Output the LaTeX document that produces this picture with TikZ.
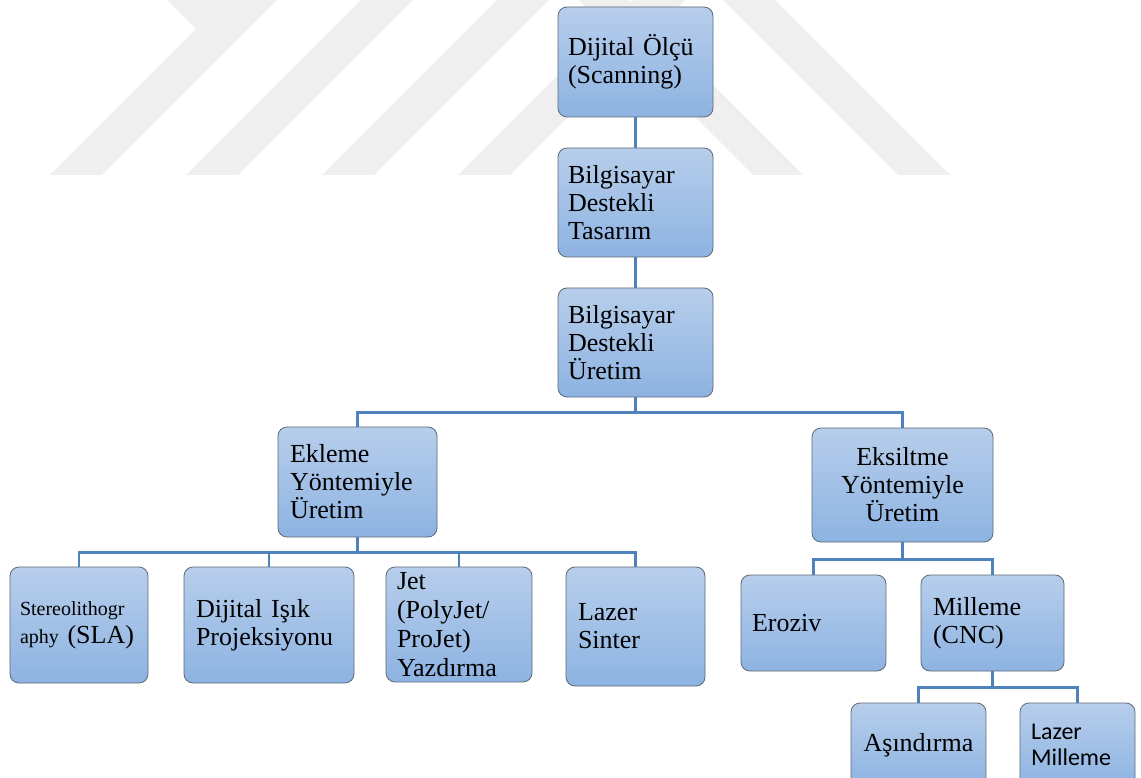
\documentclass[tikz,border=0pt]{standalone}
\usepackage{fontspec}
\setmainfont{Liberation Serif}
\newfontfamily\calib{Carlito}
\definecolor{boxtop}{HTML}{B7CEEB}
\definecolor{boxbot}{HTML}{8DB3E2}
\definecolor{boxline}{HTML}{5E6A77}
\definecolor{conn}{HTML}{4F81BD}
\definecolor{wm}{HTML}{EFEFEF}
\tikzset{
  box/.style={draw=boxline, line width=0.8pt, rounded corners=9pt,
    top color=boxtop, bottom color=boxbot, inner ysep=0pt,
    font=\fontsize{26}{28}\selectfont},
  lbox/.style={box, align=left},
  cbox/.style={box, align=center},
  link/.style={draw=conn, line width=2.2pt},
  wmark/.style={fill=wm, draw=none}
}
\begin{document}
\begin{tikzpicture}[x=1pt,y=-1pt]
\useasboundingbox (0,0) rectangle (1141,778);
\clip (0,0) rectangle (1141,778);
\fill[white] (0,0) rectangle (1141,778);
% watermark
\fill[wmark] (50,175) -- (102,175) -- (277,0) -- (167,0) -- (196,29) -- cycle;
\fill[wmark] (186,175) -- (238,175) -- (413,0) -- (361,0) -- cycle;
\fill[wmark] (322,175) -- (374,175) -- (549,0) -- (497,0) -- cycle;
\fill[wmark] (458,175) -- (510,175) -- (685,0) -- (633,0) -- cycle;
\fill[wmark] (753,175) -- (803,175) -- (628,0) -- (578,0) -- cycle;
\fill[wmark] (898,175) -- (950,175) -- (775,0) -- (723,0) -- cycle;
% nodes
\node[lbox, minimum width=155pt, minimum height=110pt, inner xsep=10pt, text width=135pt] (n1) at (635.5,62) {Dijital Ölçü\\(Scanning)};
\node[lbox, minimum width=155pt, minimum height=109pt, inner xsep=10pt, text width=135pt] (n2) at (635.5,202.5) {Bilgisayar\\Destekli\\Tasarım};
\node[lbox, minimum width=155pt, minimum height=109pt, inner xsep=10pt, text width=135pt] (n3) at (635.5,342.5) {Bilgisayar\\Destekli\\Üretim};
\node[lbox, minimum width=159pt, minimum height=110pt, inner xsep=12pt, text width=135pt] (ek) at (357.5,482) {Ekleme\\Yöntemiyle\\Üretim};
\node[cbox, minimum width=181pt, minimum height=114pt, inner xsep=10pt, text width=161pt] (es) at (902.5,485) {Eksiltme\\Yöntemiyle\\Üretim};
\node[lbox, minimum width=138pt, minimum height=116pt, inner xsep=10pt, text width=118pt] (st) at (79,625) {{\fontsize{20}{28}\selectfont Stereolithogr}\\{\fontsize{20}{28}\selectfont aphy }(SLA)};
\node[lbox, minimum width=170pt, minimum height=116pt, inner xsep=12pt, text width=146pt] (dj) at (269,625) {Dijital Işık\\Projeksiyonu};
\node[lbox, minimum width=146pt, minimum height=115pt, inner xsep=11pt, text width=124pt, font=\fontsize{26}{29}\selectfont] (jet) at (459,624.5) {Jet\\(PolyJet/\\ProJet)\\Yazdırma};
\node[lbox, minimum width=139pt, minimum height=119pt, inner xsep=12pt, text width=115pt] (lz) at (635.5,626.5) {Lazer\\Sinter};
\node[lbox, minimum width=145pt, minimum height=96pt, inner xsep=11pt, text width=123pt] (er) at (813.5,623) {Eroziv};
\node[lbox, minimum width=143pt, minimum height=96pt, inner xsep=12pt, text width=119pt] (mi) at (992.5,623) {Milleme\\(CNC)};
\node[cbox, minimum width=135pt, minimum height=84pt, inner xsep=8pt, text width=119pt] (as) at (918.5,745) {Aşındırma};
\node[lbox, minimum width=115pt, minimum height=84pt, inner xsep=11pt, text width=93pt, font=\calib\fontsize{24}{26}\selectfont] (lm) at (1077.5,745) {Lazer\\Milleme};
% connectors
\draw[link] (n1.south) -- (n2.north);
\draw[link] (n2.south) -- (n3.north);
\draw[link] (n3.south) -- ++(0,15) -| (ek.north);
\draw[link] (n3.south) -- ++(0,15) -| (es.north);
\draw[link] (ek.south) -- ++(0,15) -| (st.north);
\draw[link] (ek.south) -- ++(0,15) -| (dj.north);
\draw[link] (ek.south) -- ++(0,15) -| (jet.north);
\draw[link] (ek.south) -- ++(0,15) -| (lz.north);
\draw[link] (es.south) -- ++(0,17) -| (er.north);
\draw[link] (es.south) -- ++(0,17) -| (mi.north);
\draw[link] (mi.south) -- ++(0,16) -| (as.north);
\draw[link] (mi.south) -- ++(0,16) -| (lm.north);
\end{tikzpicture}
\end{document}
